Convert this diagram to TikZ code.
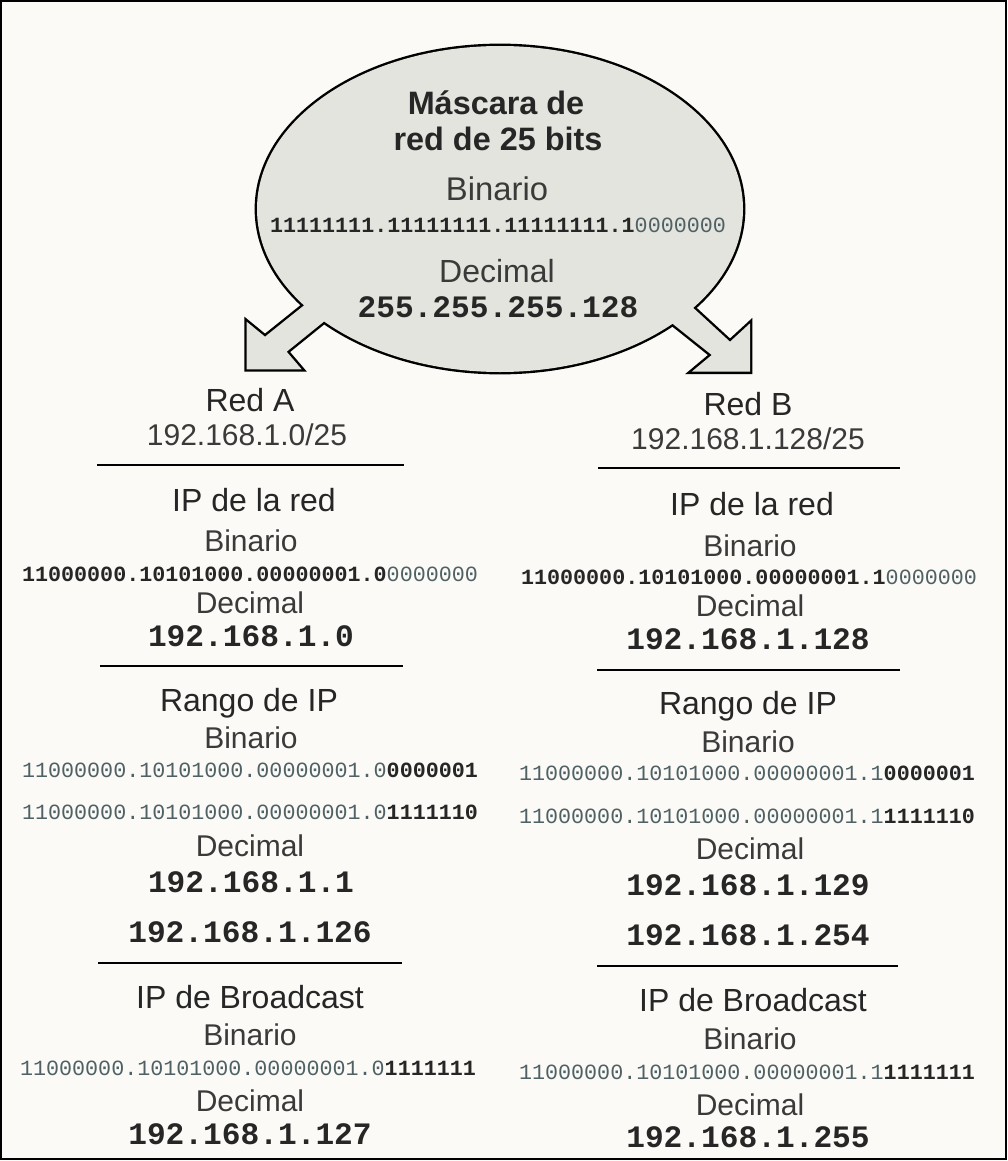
\documentclass[tikz,border=0pt]{standalone}
\usepackage{fontspec}
\setmainfont{Liberation Sans}
\setmonofont{Liberation Mono}
\usepackage{tikz}
\usetikzlibrary{positioning}
\definecolor{paper}{HTML}{FBFAF6}
\definecolor{blobgray}{HTML}{E4E4DE}
\definecolor{inkdark}{HTML}{262626}
\definecolor{inkgray}{HTML}{3A3A3A}
\definecolor{bitgray}{HTML}{4F6165}
\newcommand{\bitdark}[1]{{\bfseries\color{inkdark}#1}}
\newcommand{\bitlight}[1]{{\color{bitgray}#1}}
\tikzstyle{title}=[font=\bfseries\fontsize{16.2}{19}\selectfont,text=inkdark,anchor=base,inner sep=0pt]
\tikzstyle{heading}=[font=\fontsize{16}{19}\selectfont,text=inkdark,anchor=base,inner sep=0pt]
\tikzstyle{sublabel}=[font=\fontsize{15}{18}\selectfont,text=inkgray,anchor=base,inner sep=0pt]
\tikzstyle{bits}=[font=\ttfamily\fontsize{10.85}{13}\selectfont,anchor=base,inner sep=0pt]
\tikzstyle{decimal}=[font=\ttfamily\bfseries\fontsize{15.6}{18}\selectfont,text=inkdark,anchor=base,inner sep=0pt]
\tikzstyle{rule}=[draw=black,line width=1pt]
\tikzstyle{blobline}=[draw=black,line width=2.4pt,line join=miter]
\tikzstyle{blobfill}=[fill=blobgray]

\begin{document}
\begin{tikzpicture}[x=0.5pt,y=-0.5pt]
\useasboundingbox (0,0) rectangle (1007,1161);
\fill[paper] (0,0) rectangle (1007,1161);
\draw[line width=1pt] (1,1.5) rectangle (1005.5,1158.5);

% mask bubble with its two arrows
\def\arrowleft{(330,284.5) -- (265,336.7) -- (246.7,321.7) -- (246.7,369.3) -- (301.7,369.3) -- (286.7,351.7) -- (350,300.5) -- cycle}
\def\arrowright{(668,284.7) -- (730,341.7) -- (750,323.3) -- (750,371.7) -- (691.7,371.7) -- (711.7,355) -- (646.6,303) -- cycle}
\path[blobline] (500,209) ellipse [x radius=121.5pt, y radius=81.5pt];
\path[blobline] \arrowleft;
\path[blobline] \arrowright;
\path[blobfill] (500,209) ellipse [x radius=121.5pt, y radius=81.5pt];
\path[blobfill] \arrowleft;
\path[blobfill] \arrowright;

\node[title] (masktop) at (496,115) {Máscara de};
\node[title] (maskbot) at (498,150) {red de 25 bits};
\node[sublabel,font=\fontsize{16.4}{19}\selectfont] (maskbin) at (497,200) {Binario};
\node[bits] (maskbits) at (498,232) {\bitdark{11111111.11111111.11111111.1}\bitlight{0000000}};
\node[sublabel,font=\fontsize{16}{19}\selectfont] (maskdec) at (497,282) {Decimal};
\node[decimal] (maskval) at (498,317) {255.255.255.128};

% headings of both networks
\foreach \pos/\name/\label in {{(250,411)/redA/Red A}, {(254,511)/ipA/IP de la red}, {(249,711)/rangoA/Rango de IP}, {(250,1008)/bcA/IP de Broadcast},
    {(748,415)/redB/Red B}, {(752,515)/ipB/IP de la red}, {(748,714)/rangoB/Rango de IP}, {(753,1011)/bcB/IP de Broadcast}}
    \node[heading] (\name) at \pos {\label};

% Binario / Decimal labels
\foreach \pos/\name/\label in {{(247,445)/netA/{192.168.1.0/25}}, {(251,551)/ipAbin/Binario}, {(250,613)/ipAdec/Decimal}, {(251,748)/rangoAbin/Binario}, {(250,856)/rangoAdec/Decimal}, {(250,1045)/bcAbin/Binario}, {(250,1111)/bcAdec/Decimal},
    {(748,449)/netB/{192.168.1.128/25}}, {(750,556)/ipBbin/Binario}, {(750,616)/ipBdec/Decimal}, {(748,752)/rangoBbin/Binario}, {(750,859)/rangoBdec/Decimal}, {(750,1049)/bcBbin/Binario}, {(750,1115)/bcBdec/Decimal}}
    \node[sublabel] (\name) at \pos {\label};

% binary values
\node[bits] (ipAbits) at (250,581) {\bitdark{11000000.10101000.00000001.0}\bitlight{0000000}};
\node[bits] (rangoAbits1) at (250,777) {\bitlight{11000000.10101000.00000001.0}\bitdark{0000001}};
\node[bits] (rangoAbits2) at (250,819) {\bitlight{11000000.10101000.00000001.0}\bitdark{1111110}};
\node[bits] (bcAbits) at (248,1075) {\bitlight{11000000.10101000.00000001.0}\bitdark{1111111}};
\node[bits] (ipBbits) at (749,584) {\bitdark{11000000.10101000.00000001.1}\bitlight{0000000}};
\node[bits] (rangoBbits1) at (747,780) {\bitlight{11000000.10101000.00000001.1}\bitdark{0000001}};
\node[bits] (rangoBbits2) at (747,823) {\bitlight{11000000.10101000.00000001.1}\bitdark{1111110}};
\node[bits] (bcBbits) at (747,1079) {\bitlight{11000000.10101000.00000001.1}\bitdark{1111111}};

% decimal values
\foreach \pos/\name/\label in {{(251,646)/ipAval/192.168.1.0}, {(251,892)/rangoAval1/192.168.1.1}, {(250,942)/rangoAval2/192.168.1.126}, {(250,1144)/bcAval/192.168.1.127},
    {(748,649)/ipBval/192.168.1.128}, {(748,895)/rangoBval1/192.168.1.129}, {(748,945)/rangoBval2/192.168.1.254}, {(748,1147)/bcBval/192.168.1.255}}
    \node[decimal] (\name) at \pos {\label};

% separators
\draw[rule] (97,465) -- (404,465);
\draw[rule] (100,666) -- (403,666);
\draw[rule] (98,963) -- (402,963);
\draw[rule] (598,468) -- (900,468);
\draw[rule] (597,670) -- (900,670);
\draw[rule] (597,966) -- (898,966);
\end{tikzpicture}
\end{document}
